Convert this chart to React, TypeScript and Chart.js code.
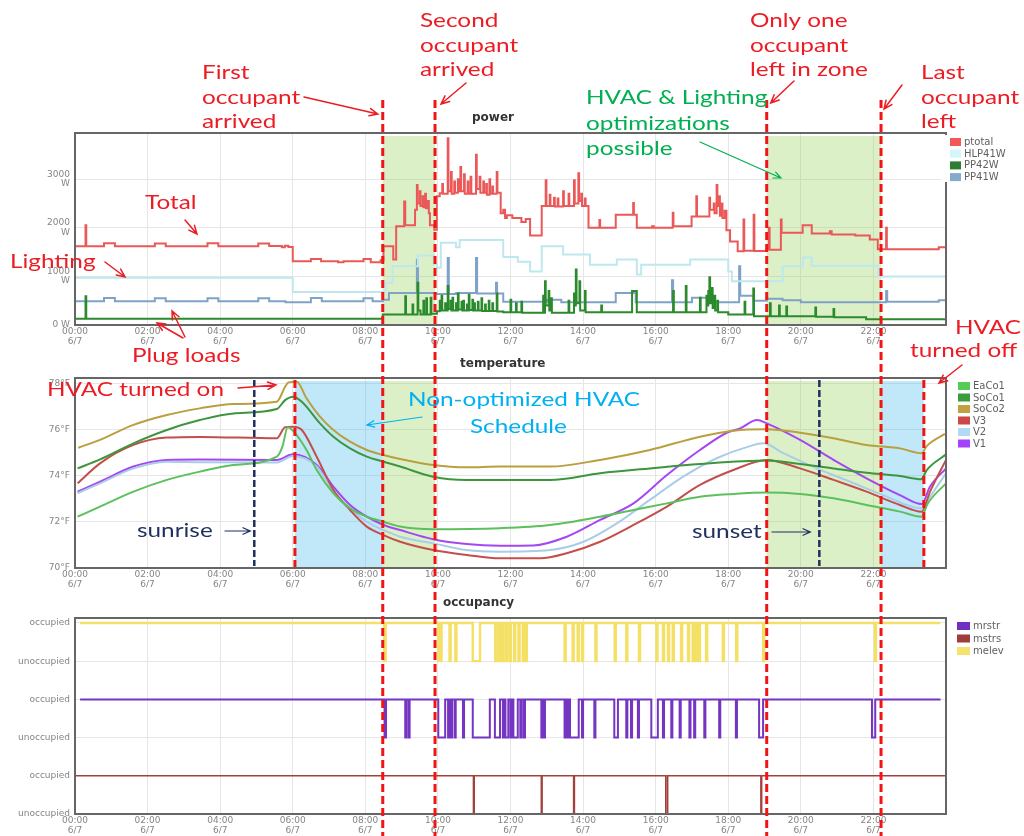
import { useEffect, useRef } from 'react';
import { Chart, registerables } from 'chart.js';

Chart.register(...registerables);

type Pt = [number, number];
type Span = [number, number];

// ---------- shared time axis ----------
const HOURS = [0, 2, 4, 6, 8, 10, 12, 14, 16, 18, 20, 22];
const DAY = '6/7';

// ---------- power panel (W) ----------
const powerTicks = [0, 1000, 2000, 3000];

const ptotal: Pt[] = [
  [0, 1620], [0.29, 2050], [0.31, 1620], [0.8, 1680], [1.1, 1620], [2.2, 1675], [2.5, 1620],
  [3.65, 1680], [3.95, 1620], [5.05, 1675], [5.35, 1625], [5.7, 1600], [5.78, 1630], [5.88, 1605],
  [6.0, 1310], [6.5, 1360], [6.78, 1310], [7.25, 1290], [7.4, 1310], [7.95, 1360], [8.15, 1290],
  [8.42, 1330], [8.5, 1620], [8.77, 1350], [8.85, 2030], [9.07, 2540], [9.1, 2050], [9.37, 2370],
  [9.42, 2880], [9.44, 2500], [9.5, 2750], [9.52, 2450], [9.58, 2650], [9.6, 2420], [9.65, 2700],
  [9.67, 2400], [9.72, 2550], [9.75, 2300], [9.78, 2050], [9.9, 1960], [9.97, 2650], [10.05, 2710],
  [10.12, 2900], [10.14, 2700], [10.27, 3840], [10.29, 2750], [10.36, 3150], [10.38, 2700], [10.45, 2950],
  [10.47, 2720], [10.55, 3000], [10.57, 2750], [10.62, 3250], [10.64, 2750], [10.72, 3100], [10.74, 2700],
  [10.82, 2950], [10.84, 2700], [10.9, 3050], [10.92, 2700], [11.05, 3500], [11.07, 2800], [11.15, 3050],
  [11.17, 2720], [11.25, 2950], [11.27, 2720], [11.33, 2900], [11.35, 2680], [11.42, 3000], [11.44, 2700],
  [11.5, 2850], [11.52, 2700], [11.62, 3150], [11.64, 2720], [11.73, 2300], [11.8, 2370], [11.85, 2200],
  [11.9, 2260], [12.05, 2200], [12.3, 2120], [12.42, 2180], [12.54, 1840], [12.86, 2450], [12.97, 2980],
  [12.99, 2450], [13.08, 2680], [13.1, 2450], [13.2, 2620], [13.22, 2440], [13.3, 2600], [13.32, 2440],
  [13.45, 2750], [13.47, 2450], [13.6, 2700], [13.62, 2450], [13.75, 2980], [13.77, 2500], [13.87, 3120],
  [13.89, 2550], [13.95, 2700], [13.97, 2450], [14.05, 2600], [14.07, 2450], [14.15, 2000], [14.45, 2160],
  [14.47, 2000], [14.9, 2270], [15.38, 2510], [15.4, 2270], [15.48, 2000], [15.9, 2030], [15.95, 2000],
  [16.47, 2310], [16.49, 2030], [16.99, 2230], [17.12, 2650], [17.14, 2230], [17.48, 2620], [17.5, 2370],
  [17.6, 2500], [17.62, 2300], [17.68, 2880], [17.7, 2450], [17.75, 2650], [17.77, 2250], [17.82, 2500],
  [17.84, 2200], [17.9, 2350], [17.95, 1950], [18.05, 1720], [18.26, 1515], [18.42, 2170], [18.44, 1530],
  [18.7, 2270], [18.72, 1520], [19.06, 1560], [19.12, 2000], [19.14, 1550], [19.45, 2170], [19.47, 1900],
  [20.05, 2050], [20.3, 1880], [20.8, 1930], [20.85, 1860], [21.5, 1840], [21.9, 1760], [22.12, 1560],
  [22.35, 2000], [22.37, 1560], [23.8, 1600], [24, 1600],
];

const hlp41w: Pt[] = [
  [0, 970], [6.0, 680], [8.5, 690], [8.56, 870], [8.75, 1210], [9.45, 1430], [9.88, 1250], [9.97, 1180],
  [10.08, 1690], [10.5, 1600], [10.6, 1750], [11.8, 1400], [12.2, 1300], [12.54, 1100], [12.86, 1620],
  [13.45, 1450], [14.19, 1240], [14.93, 1345], [15.48, 1040], [15.6, 1240], [16.95, 1345], [18.0, 1100],
  [18.1, 900], [19.5, 1210], [20.06, 1390], [20.3, 1220], [22.13, 1000], [24, 1000],
];

const pp42w: Pt[] = [
  [0, 130], [0.29, 590], [0.31, 130], [8.48, 215], [9.1, 590], [9.12, 215], [9.3, 420], [9.32, 215],
  [9.44, 870], [9.46, 300], [9.52, 215], [9.6, 500], [9.62, 215], [9.68, 550], [9.7, 215], [9.8, 560],
  [9.82, 230], [9.97, 285], [10.05, 500], [10.07, 300], [10.1, 600], [10.12, 300], [10.2, 450],
  [10.22, 300], [10.27, 800], [10.29, 330], [10.35, 500], [10.37, 300], [10.4, 560], [10.42, 300],
  [10.5, 450], [10.52, 300], [10.55, 650], [10.57, 320], [10.65, 480], [10.67, 300], [10.7, 500],
  [10.72, 300], [10.8, 420], [10.82, 300], [10.85, 620], [10.87, 310], [10.95, 520], [10.97, 300],
  [11.0, 450], [11.02, 300], [11.1, 480], [11.12, 300], [11.2, 550], [11.22, 290], [11.3, 420],
  [11.32, 290], [11.4, 500], [11.42, 290], [11.5, 450], [11.52, 290], [11.62, 650], [11.64, 280],
  [11.8, 260], [12.0, 520], [12.02, 260], [12.15, 450], [12.17, 260], [12.3, 480], [12.32, 250],
  [12.9, 600], [12.92, 250], [12.95, 900], [12.97, 400], [13.05, 700], [13.07, 300], [13.12, 550],
  [13.14, 250], [13.6, 500], [13.62, 250], [13.75, 650], [13.77, 400], [13.8, 1140], [13.82, 450],
  [13.9, 900], [13.92, 300], [14.05, 700], [14.07, 263], [14.5, 400], [14.52, 263], [15.35, 700],
  [15.48, 263], [16.48, 700], [16.5, 263], [16.83, 800], [16.85, 263], [17.22, 560], [17.24, 263],
  [17.4, 600], [17.42, 400], [17.45, 700], [17.47, 500], [17.48, 980], [17.5, 450], [17.55, 760],
  [17.57, 350], [17.62, 600], [17.64, 300], [17.7, 500], [17.72, 263], [18.0, 215], [18.45, 480],
  [18.47, 215], [18.69, 750], [18.71, 180], [19.15, 450], [19.17, 180], [19.4, 400], [19.42, 180],
  [19.6, 380], [19.62, 180], [20.4, 360], [20.42, 170], [20.9, 330], [20.92, 160], [21.8, 120], [24, 120],
];

const pp41w: Pt[] = [
  [0, 490], [0.8, 555], [1.1, 490], [2.2, 550], [2.5, 490], [3.65, 550], [3.95, 490], [5.05, 550],
  [5.35, 490], [5.8, 470], [6.5, 555], [6.8, 490], [7.95, 550], [8.2, 490], [8.48, 520], [8.65, 660],
  [9.42, 1340], [9.45, 660], [9.95, 640], [10.27, 1380], [10.3, 640], [10.5, 660], [11.05, 1380],
  [11.08, 650], [11.6, 870], [11.63, 650], [11.8, 480], [13.0, 520], [13.4, 470], [14.9, 660],
  [15.45, 470], [16.45, 920], [16.48, 470], [17.0, 560], [17.5, 470], [18.3, 1210], [18.33, 600],
  [18.7, 500], [19.06, 540], [19.5, 510], [20.0, 470], [22.35, 700], [22.38, 480], [23.8, 510], [24, 510],
];

// ---------- temperature panel (°F) ----------
const tempTicks = [70, 72, 74, 76, 78];

const eaCo1: Pt[] = [
  [0.07, 72.23], [0.69, 72.67], [1.61, 73.32], [2.53, 73.83], [3.44, 74.19], [4.36, 74.48], [5.56, 74.84],
  [5.72, 75.3], [5.86, 76.12], [6.01, 75.96], [6.38, 75.13], [6.66, 74.26], [7.12, 73.25], [7.58, 72.59],
  [8.04, 72.23], [8.5, 72.01], [8.96, 71.8], [9.87, 71.68], [11.71, 71.73], [13.09, 71.87], [14.47, 72.23],
  [15.39, 72.52], [16.31, 72.81], [17.22, 73.1], [18.14, 73.22], [19.06, 73.28], [19.98, 73.22],
  [20.9, 73.03], [21.81, 72.74], [22.73, 72.45], [23.32, 72.23], [23.5, 72.81], [24.0, 73.68],
];
const soCo1: Pt[] = [
  [0.07, 74.33], [0.69, 74.72], [1.61, 75.42], [2.53, 76.0], [3.44, 76.43], [4.36, 76.72], [5.56, 76.91],
  [5.79, 77.3], [6.01, 77.45], [6.25, 77.23], [6.75, 76.29], [7.12, 75.71], [7.58, 75.2], [8.04, 74.84],
  [8.5, 74.62], [8.96, 74.41], [9.87, 73.97], [10.79, 73.83], [11.71, 73.83], [13.09, 73.83],
  [14.47, 74.12], [15.84, 74.33], [17.22, 74.52], [19.06, 74.67], [19.98, 74.52], [20.9, 74.33],
  [21.81, 74.14], [22.73, 74.0], [23.32, 73.86], [23.47, 74.26], [24.0, 74.94],
];
const soCo2: Pt[] = [
  [0.09, 75.23], [0.69, 75.57], [1.61, 76.22], [2.53, 76.65], [3.44, 76.94], [4.36, 77.13], [5.56, 77.23],
  [5.79, 77.88], [5.88, 78.07], [6.11, 78.1], [6.38, 77.38], [6.75, 76.58], [7.12, 76.0], [7.58, 75.49],
  [8.04, 75.13], [8.5, 74.91], [8.96, 74.74], [9.87, 74.48], [10.79, 74.38], [11.71, 74.41],
  [13.09, 74.41], [14.47, 74.7], [15.84, 75.13], [17.22, 75.71], [18.14, 75.97], [19.06, 76.03],
  [19.98, 75.88], [20.9, 75.64], [21.81, 75.35], [22.73, 75.2], [23.33, 74.99], [23.47, 75.3], [23.97, 75.83],
];
const v3: Pt[] = [
  [0.07, 73.68], [0.69, 74.55], [1.61, 75.35], [2.53, 75.67], [3.44, 75.7], [5.56, 75.64], [5.79, 76.12],
  [6.01, 76.14], [6.25, 76.0], [6.66, 74.84], [7.12, 73.39], [7.58, 72.52], [8.04, 71.8], [8.5, 71.43],
  [8.96, 71.14], [9.87, 70.78], [10.79, 70.57], [11.71, 70.42], [12.82, 70.42], [13.55, 70.64],
  [14.47, 71.14], [15.39, 71.87], [16.31, 72.67], [17.22, 73.61], [18.14, 74.26], [19.06, 74.7],
  [19.98, 74.33], [20.9, 73.83], [21.81, 73.32], [22.73, 72.74], [23.33, 72.45], [23.56, 73.32], [24.0, 74.7],
];
const v2: Pt[] = [
  [0.07, 73.25], [0.69, 73.68], [1.61, 74.33], [2.53, 74.62], [3.44, 74.6], [5.56, 74.59], [6.01, 74.87],
  [6.66, 74.41], [7.12, 73.32], [7.58, 72.59], [8.04, 72.01], [8.5, 71.65], [8.96, 71.36], [9.87, 71.07],
  [10.79, 70.78], [11.71, 70.71], [13.09, 70.78], [14.01, 71.14], [14.93, 71.94], [15.84, 72.96],
  [16.76, 73.97], [17.68, 74.77], [18.6, 75.3], [18.97, 75.42], [19.52, 74.99], [20.44, 74.33],
  [21.36, 73.75], [22.27, 73.17], [23.33, 72.59], [23.56, 73.1], [24.0, 74.12],
];
const v1: Pt[] = [
  [0.07, 73.32], [0.69, 73.75], [1.61, 74.41], [2.53, 74.7], [3.44, 74.72], [5.56, 74.7], [6.01, 74.94],
  [6.66, 74.48], [7.12, 73.54], [7.58, 72.74], [8.04, 72.23], [8.5, 71.87], [8.96, 71.65], [9.87, 71.25],
  [10.79, 71.04], [11.71, 70.97], [12.63, 70.98], [13.55, 71.36], [14.47, 72.09], [15.39, 72.81],
  [16.31, 74.04], [17.22, 75.13], [17.96, 75.88], [18.33, 76.07], [18.79, 76.43], [19.06, 76.29],
  [19.98, 75.57], [20.9, 74.7], [21.81, 73.9], [22.73, 73.17], [23.33, 72.78], [23.56, 73.54], [24.0, 74.33],
];

// ---------- occupancy panel: vacant spans [from, to] in hours ----------
const occupancyStates = ['unoccupied', 'occupied'];

const mrstrVacant: Span[] = [
  [8.53, 8.57], [9.1, 9.13], [9.19, 9.22], [10.01, 10.2], [10.28, 10.31], [10.36, 10.39], [10.46, 10.49],
  [10.69, 10.72], [10.96, 11.43], [11.57, 11.71], [11.79, 11.82], [11.86, 11.94], [12.0, 12.03],
  [12.08, 12.2], [12.27, 12.3], [12.36, 12.4], [12.85, 12.88], [12.92, 12.95], [13.49, 13.52],
  [13.57, 13.6], [13.64, 13.88], [13.97, 14.0], [14.31, 14.34], [14.86, 14.96], [15.19, 15.22],
  [15.32, 15.35], [15.51, 15.54], [15.88, 16.06], [16.2, 16.23], [16.43, 16.46], [16.66, 16.69],
  [16.93, 16.96], [17.06, 17.09], [17.34, 17.37], [17.75, 17.78], [18.21, 18.24], [18.85, 18.96],
  [21.96, 22.05],
];
const mstrsVacant: Span[] = [
  [10.98, 11.0], [12.85, 12.87], [13.74, 13.76], [16.28, 16.33], [18.9, 18.92],
];
const melevVacant: Span[] = [
  [8.52, 8.56], [10.01, 10.05], [10.07, 10.1], [10.32, 10.35], [10.48, 10.51], [10.96, 11.16],
  [11.58, 11.61], [11.68, 11.72], [11.78, 11.81], [11.88, 11.91], [11.98, 12.01], [12.1, 12.13],
  [12.22, 12.25], [12.34, 12.37], [12.42, 12.45], [13.49, 13.52], [13.71, 13.74], [13.85, 13.88],
  [13.97, 14.0], [14.34, 14.37], [14.87, 14.9], [15.19, 15.22], [15.54, 15.57], [16.02, 16.05],
  [16.2, 16.23], [16.34, 16.37], [16.47, 16.5], [16.7, 16.73], [16.89, 16.92], [17.02, 17.05],
  [17.11, 17.14], [17.19, 17.22], [17.39, 17.42], [17.85, 17.88], [18.22, 18.25], [18.96, 18.99],
  [22.04, 22.07],
];

// ---------- events (hours) ----------
const sunrise = 4.94;
const hvacOn = 6.06;
const firstArrived = 8.48;
const secondArrived = 9.92;
const oneLeft = 19.06;
const sunset = 20.51;
const lastLeft = 22.21;
const hvacOff = 23.39;

// ---------- layout & styles ----------
const W = 1024;
const H = 836;
const PLOT_LEFT = 75;
const PLOT_RIGHT = 946;
const XAXIS_H = 22;
const GRID = '#e6e6e6';
const TICK = '#858585';
const TICK_FONT = { family: '"DejaVu Sans", sans-serif', size: 9, lineHeight: 1.05 };
const RED = '#ec1c24';
const GREEN_TXT = '#00b050';
const CYAN_TXT = '#00b0f0';
const NAVY = '#1f2f5e';
const BAND_GREEN = 'rgba(146, 208, 80, 0.32)';
const BAND_BLUE = 'rgba(60, 185, 235, 0.32)';

const xy = (pts: Pt[]) => pts.map(([x, y]) => ({ x, y }));
const hh = (v: number) => `${String(v).padStart(2, '0')}:00`;

function occupancySteps(start: number, end: number, hi: number, spans: Span[]) {
  const pts = [{ x: start, y: hi }];
  for (const [a, b] of spans) pts.push({ x: a, y: hi - 1 }, { x: b, y: hi });
  pts.push({ x: end, y: hi });
  return pts;
}

function panelOptions(
  top: number,
  bottom: number,
  y: { min: number; max: number; ticks: number[]; label: (v: number) => string | string[] },
): any {
  return {
    responsive: false,
    maintainAspectRatio: false,
    animation: false,
    events: [],
    layout: { padding: { left: 0, right: W - PLOT_RIGHT, top, bottom: H - bottom - XAXIS_H } },
    plugins: { legend: { display: false }, tooltip: { enabled: false }, title: { display: false } },
    elements: { point: { radius: 0 } },
    scales: {
      x: {
        type: 'linear',
        min: 0,
        max: 24,
        afterBuildTicks: (s: any) => {
          s.ticks = HOURS.map((value) => ({ value }));
        },
        afterFit: (s: any) => {
          s.height = XAXIS_H;
        },
        grid: { color: GRID, drawTicks: false },
        border: { display: false },
        ticks: {
          padding: 2,
          autoSkip: false,
          maxRotation: 0,
          color: TICK,
          font: TICK_FONT,
          callback: (v: number) => [hh(v), DAY],
        },
      },
      y: {
        type: 'linear',
        min: y.min,
        max: y.max,
        afterBuildTicks: (s: any) => {
          s.ticks = y.ticks.map((value) => ({ value }));
        },
        afterFit: (s: any) => {
          s.width = PLOT_LEFT;
        },
        grid: { color: GRID, drawTicks: false },
        border: { display: false },
        ticks: { padding: 5, color: TICK, font: TICK_FONT, callback: y.label },
      },
    },
  };
}

type LegendItem = { name: string; color: string };
type Band = { from: number; to: number; color: string };

function panelDecor(cfg: {
  id: string;
  title: string;
  titleX: number;
  titleY: number;
  legend: LegendItem[];
  legendX: number;
  legendY: number;
  legendStep: number;
  swatchW: number;
  bands: Band[];
  legendBox?: [number, number, number, number];
}) {
  return {
    id: cfg.id,
    beforeDatasetsDraw(chart: any) {
      const { ctx, chartArea: a, scales } = chart;
      ctx.save();
      for (const b of cfg.bands) {
        const x0 = scales.x.getPixelForValue(b.from);
        const x1 = scales.x.getPixelForValue(b.to);
        ctx.fillStyle = b.color;
        ctx.fillRect(x0, a.top + 3, x1 - x0, a.bottom - a.top - 3);
      }
      ctx.restore();
    },
    afterDraw(chart: any) {
      const { ctx, chartArea: a } = chart;
      ctx.save();
      ctx.strokeStyle = '#666';
      ctx.lineWidth = 2;
      ctx.strokeRect(a.left, a.top, a.right - a.left, a.bottom - a.top);
      if (cfg.legendBox) {
        const [bx, by, bw, bh] = cfg.legendBox;
        ctx.fillStyle = '#fff';
        ctx.fillRect(bx, by, bw, bh);
      }
      ctx.font = '10px "DejaVu Sans", sans-serif';
      ctx.textBaseline = 'middle';
      cfg.legend.forEach((it, i) => {
        const cy = cfg.legendY + i * cfg.legendStep;
        ctx.fillStyle = it.color;
        ctx.fillRect(cfg.legendX, cy - 4, cfg.swatchW, 8);
        ctx.fillStyle = '#606060';
        ctx.fillText(it.name, cfg.legendX + cfg.swatchW + 3, cy + 0.5);
      });
      ctx.fillStyle = '#333';
      ctx.font = 'bold 12px "DejaVu Sans", sans-serif';
      ctx.textBaseline = 'alphabetic';
      ctx.fillText(cfg.title, cfg.titleX, cfg.titleY);
      ctx.restore();
    },
  };
}

// ---------- annotation helpers ----------
const STRETCH = 1.28;

function note(ctx: CanvasRenderingContext2D, lines: string[], x: number, y: number, color: string, lh = 24.5) {
  ctx.save();
  ctx.fillStyle = color;
  ctx.font = '19px Lato, "Open Sans", sans-serif';
  ctx.textBaseline = 'alphabetic';
  lines.forEach((s, i) => {
    ctx.save();
    ctx.translate(x, y + i * lh);
    ctx.scale(STRETCH, 1);
    ctx.fillText(s, 0, 0);
    ctx.restore();
  });
  ctx.restore();
}

function arrow(
  ctx: CanvasRenderingContext2D,
  x0: number,
  y0: number,
  x1: number,
  y1: number,
  color: string,
  width = 1.5,
  head = 9,
) {
  const ang = Math.atan2(y1 - y0, x1 - x0);
  ctx.save();
  ctx.strokeStyle = color;
  ctx.lineWidth = width;
  ctx.lineCap = 'round';
  ctx.beginPath();
  ctx.moveTo(x0, y0);
  ctx.lineTo(x1, y1);
  ctx.moveTo(x1 - head * Math.cos(ang - 0.42), y1 - head * Math.sin(ang - 0.42));
  ctx.lineTo(x1, y1);
  ctx.lineTo(x1 - head * Math.cos(ang + 0.42), y1 - head * Math.sin(ang + 0.42));
  ctx.stroke();
  ctx.restore();
}

function vline(
  ctx: CanvasRenderingContext2D,
  x: number,
  y0: number,
  y1: number,
  color: string,
  width: number,
  dash: number[],
) {
  ctx.save();
  ctx.strokeStyle = color;
  ctx.lineWidth = width;
  ctx.setLineDash(dash);
  ctx.beginPath();
  ctx.moveTo(x, y0);
  ctx.lineTo(x, y1);
  ctx.stroke();
  ctx.restore();
}

const annotationsPlugin = {
  id: 'annotations',
  afterDraw(chart: any) {
    const ctx: CanvasRenderingContext2D = chart.ctx;
    const px = (t: number) => chart.scales.x.getPixelForValue(t);

    // event markers
    for (const t of [firstArrived, secondArrived, oneLeft, lastLeft]) vline(ctx, px(t), 100, H, '#f01414', 3, [8, 4]);
    for (const t of [hvacOn, hvacOff]) vline(ctx, px(t), 380, 567, '#f01414', 3, [8, 4]);
    for (const t of [sunrise, sunset]) vline(ctx, px(t), 380, 566, NAVY, 2.5, [7, 3]);

    // occupant notes
    note(ctx, ['First', 'occupant', 'arrived'], 202, 79, RED);
    arrow(ctx, 304, 97, px(firstArrived) - 5, 114, RED);
    note(ctx, ['Second', 'occupant', 'arrived'], 420, 27, RED);
    arrow(ctx, 466, 83, px(secondArrived) + 6, 104, RED);
    note(ctx, ['Only one', 'occupant', 'left in zone'], 750, 27, RED);
    arrow(ctx, 794, 81, px(oneLeft) + 4, 103, RED);
    note(ctx, ['Last', 'occupant', 'left'], 921, 79, RED);
    arrow(ctx, 902, 85, px(lastLeft) + 3, 109, RED);

    note(ctx, ['HVAC & Lighting', 'optimizations', 'possible'], 586, 104, GREEN_TXT, 25.5);
    arrow(ctx, 700, 142, 781, 178, GREEN_TXT, 1.2, 8);

    // power series notes
    note(ctx, ['Total'], 145, 209, RED);
    arrow(ctx, 185, 220, 197, 234, RED);
    note(ctx, ['Lighting'], 10, 268, RED);
    arrow(ctx, 105, 262, 125, 277, RED);
    note(ctx, ['Plug loads'], 132, 362, RED);
    arrow(ctx, 185, 337, 172, 311, RED);
    arrow(ctx, 183, 338, 157, 323, RED);

    // temperature notes
    note(ctx, ['HVAC turned on'], 47, 396, RED);
    arrow(ctx, 238, 388, px(hvacOn) - 19, 385, RED);
    note(ctx, ['HVAC'], 955, 334, RED);
    note(ctx, ['turned off'], 910, 357, RED);
    arrow(ctx, 962, 365, 939, 383, RED);
    note(ctx, ['Non-optimized HVAC'], 408, 406, CYAN_TXT);
    note(ctx, ['Schedule'], 470, 433, CYAN_TXT);
    arrow(ctx, 422, 417, 367, 425, CYAN_TXT, 1.2, 8);
    note(ctx, ['sunrise'], 137, 537, NAVY);
    arrow(ctx, 225, 531, px(sunrise) - 4, 531, NAVY, 1.2, 8);
    note(ctx, ['sunset'], 692, 538, NAVY);
    arrow(ctx, 772, 532, px(sunset) - 9, 532, NAVY, 1.2, 8);
  },
};

// ---------- chart configs ----------
function powerConfig(): any {
  return {
    type: 'line',
    data: {
      datasets: [
        { label: 'ptotal', data: xy(ptotal), borderColor: '#ea5858', borderWidth: 2, stepped: true },
        { label: 'HLP41W', data: xy(hlp41w), borderColor: '#bde8ee', borderWidth: 2, stepped: true },
        { label: 'PP42W', data: xy(pp42w), borderColor: '#2b8a2b', borderWidth: 2, stepped: true },
        { label: 'PP41W', data: xy(pp41w), borderColor: '#7ea3c7', borderWidth: 2, stepped: true },
      ],
    },
    options: panelOptions(133, 325, {
      min: 0,
      max: 3950,
      ticks: powerTicks,
      label: (v) => (v === 0 ? '0 W' : [String(v), 'W']),
    }),
    plugins: [
      panelDecor({
        id: 'powerDecor',
        title: 'power',
        titleX: 472,
        titleY: 121,
        legend: [
          { name: 'ptotal', color: '#f05a5a' },
          { name: 'HLP41W', color: '#d2f6fa' },
          { name: 'PP42W', color: '#2e7d32' },
          { name: 'PP41W', color: '#86a9cc' },
        ],
        legendX: 950,
        legendY: 142,
        legendStep: 11.7,
        swatchW: 11,
        bands: [
          { from: firstArrived, to: secondArrived, color: BAND_GREEN },
          { from: oneLeft, to: lastLeft, color: BAND_GREEN },
        ],
        legendBox: [941, 135, 70, 47],
      }),
    ],
  };
}

function tempConfig(): any {
  const ds = (label: string, pts: Pt[], color: string) => ({
    label,
    data: xy(pts),
    borderColor: color,
    borderWidth: 2,
    cubicInterpolationMode: 'monotone',
  });
  return {
    type: 'line',
    data: {
      datasets: [
        ds('EaCo1', eaCo1, '#5cc05c'),
        ds('SoCo1', soCo1, '#3d963d'),
        ds('SoCo2', soCo2, '#b99f3e'),
        ds('V3', v3, '#c24f4b'),
        ds('V2', v2, '#a9cde9'),
        ds('V1', v1, '#a447f2'),
      ],
    },
    options: panelOptions(378, 568, {
      min: 70,
      max: 78.26,
      ticks: tempTicks,
      label: (v) => `${v}°F`,
    }),
    plugins: [
      panelDecor({
        id: 'tempDecor',
        title: 'temperature',
        titleX: 460,
        titleY: 367,
        legend: [
          { name: 'EaCo1', color: '#55cc55' },
          { name: 'SoCo1', color: '#3c9c3c' },
          { name: 'SoCo2', color: '#c0a040' },
          { name: 'V3', color: '#cc4747' },
          { name: 'V2', color: '#b4d9f5' },
          { name: 'V1', color: '#a542ff' },
        ],
        legendX: 958,
        legendY: 386,
        legendStep: 11.5,
        swatchW: 12,
        bands: [
          { from: hvacOn, to: firstArrived, color: BAND_BLUE },
          { from: firstArrived, to: secondArrived, color: BAND_GREEN },
          { from: oneLeft, to: lastLeft, color: BAND_GREEN },
          { from: lastLeft, to: hvacOff, color: BAND_BLUE },
        ],
      }),
    ],
  };
}

function occConfig(): any {
  return {
    type: 'line',
    data: {
      datasets: [
        { label: 'mrstr', data: occupancySteps(0.14, 23.85, 3, mrstrVacant), borderColor: '#7435c2', borderWidth: 2, stepped: true },
        { label: 'mstrs', data: occupancySteps(0, 24, 1, mstrsVacant), borderColor: '#a3403c', borderWidth: 1.6, stepped: true },
        { label: 'melev', data: occupancySteps(0.14, 23.85, 5, melevVacant), borderColor: '#f4e065', borderWidth: 2.4, stepped: true },
      ],
    },
    options: panelOptions(618, 814, {
      min: 0,
      max: 5.13,
      ticks: [0, 1, 2, 3, 4, 5],
      label: (v) => occupancyStates[v % 2],
    }),
    plugins: [
      panelDecor({
        id: 'occDecor',
        title: 'occupancy',
        titleX: 443,
        titleY: 606,
        legend: [
          { name: 'mrstr', color: '#7030c0' },
          { name: 'mstrs', color: '#a03c3c' },
          { name: 'melev', color: '#f6e26e' },
        ],
        legendX: 957,
        legendY: 626,
        legendStep: 12.5,
        swatchW: 13,
        bands: [],
      }),
      annotationsPlugin,
    ],
  };
}

export default function App() {
  const powerRef = useRef<HTMLCanvasElement>(null);
  const tempRef = useRef<HTMLCanvasElement>(null);
  const occRef = useRef<HTMLCanvasElement>(null);

  useEffect(() => {
    const charts = [
      new Chart(powerRef.current as HTMLCanvasElement, powerConfig()),
      new Chart(tempRef.current as HTMLCanvasElement, tempConfig()),
      new Chart(occRef.current as HTMLCanvasElement, occConfig()),
    ];
    return () => charts.forEach((c) => c.destroy());
  }, []);

  const layer = { position: 'absolute' as const, left: 0, top: 0 };
  return (
    <div style={{ position: 'absolute', left: 0, top: 0, width: W, height: H, background: '#fff', overflow: 'hidden' }}>
      <canvas ref={powerRef} width={W} height={H} style={layer} />
      <canvas ref={tempRef} width={W} height={H} style={layer} />
      <canvas ref={occRef} width={W} height={H} style={layer} />
    </div>
  );
}
